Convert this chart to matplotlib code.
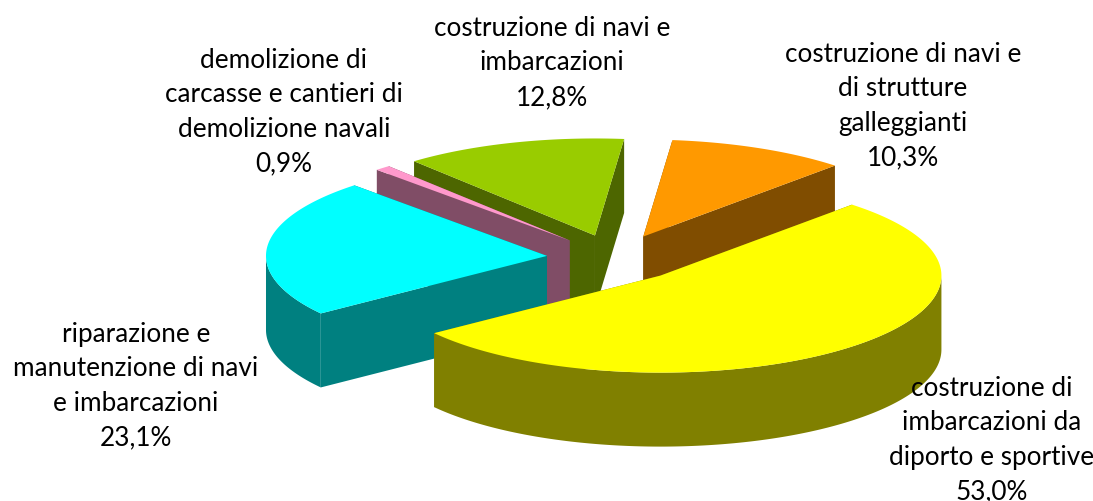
import numpy as np
import matplotlib.pyplot as plt

labels = ["costruzione di\nimbarcazioni da\ndiporto e sportive\n53,0%",
          "riparazione e\nmanutenzione di navi\ne imbarcazioni\n23,1%",
          "demolizione di\ncarcasse e cantieri di\ndemolizione navali\n0,9%",
          "costruzione di navi e\nimbarcazioni\n12,8%",
          "costruzione di navi e\ndi strutture\ngalleggianti\n10,3%"]
values = [53.0, 23.1, 0.9, 12.8, 10.3]
top_colors = ["#FFFF00", "#00FFFF", "#FF99CC", "#99CC00", "#FF9900"]
side_colors = ["#808000", "#008080", "#804D66", "#4D6600", "#804D00"]
label_pos = [(992, 440), (136, 386), (284, 112), (552, 63), (903, 106)]

# pie geometry in pixels
cx, cy = 615, 259
rx, ry = 281, 97
depth = 74
explode = 0.243
start = 47

plt.rcParams["font.family"] = "Lato"
fig = plt.figure(figsize=(10.93, 5.02), dpi=100)
ax = fig.add_axes([0, 0, 1, 1])
ax.set_xlim(0, 1093)
ax.set_ylim(502, 0)
ax.axis("off")

# work out the slices clockwise from the start angle
slices = []
a0 = start
for i in range(len(values)):
    a1 = a0 - values[i] / sum(values) * 360
    mid = np.radians((a0 + a1) / 2)
    ox = cx + explode * rx * np.cos(mid)
    oy = cy - explode * ry * np.sin(mid)
    t = np.radians(np.linspace(a0, a1, 720))
    slices.append((i, ox, oy, t))
    a0 = a1

# back slices first, yellow last
for i, ox, oy, t in sorted(slices, key=lambda s: s[2]):
    xs = ox + rx * np.cos(t)
    ys = oy - ry * np.sin(t)
    col = side_colors[i]
    # the two cut faces
    for k in [0, -1]:
        ax.fill([ox, xs[k], xs[k], ox], [oy, ys[k], ys[k] + depth, oy + depth],
                color=col, lw=0)
    # outer rim, only the front half shows
    front = np.sin(t) <= 0
    if front.any():
        fx, fy = xs[front], ys[front]
        ax.fill(np.r_[fx, fx[::-1]], np.r_[fy, fy[::-1] + depth], color=col, lw=0)
    ax.fill(np.r_[ox, xs], np.r_[oy, ys], color=top_colors[i], lw=0)

for i in range(len(labels)):
    ax.text(label_pos[i][0], label_pos[i][1], labels[i], ha="center", va="center",
            fontsize=18.8, color="black", linespacing=1.47)

fig.savefig("out.png", dpi=100)
